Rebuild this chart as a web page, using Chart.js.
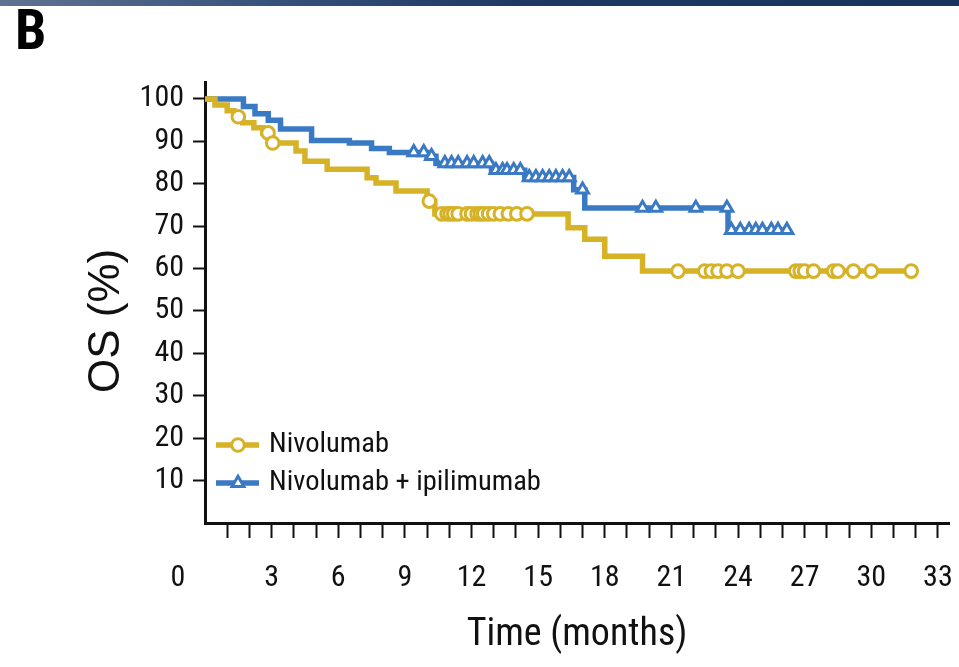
<!DOCTYPE html>
<html>
<head>
<meta charset="utf-8">
<script src="https://cdn.jsdelivr.net/npm/chart.js@4.4.1/dist/chart.umd.min.js"></script>
<style>
html,body{margin:0;padding:0;background:#fff;}
#wrap{position:relative;width:959px;height:667px;overflow:hidden;background:#fff;}
#bar{position:absolute;left:0;top:0;width:959px;height:6px;background:linear-gradient(to right,#5f7292 0%,#34507a 30%,#1d3862 55%,#18335b 100%);}
#panel{position:absolute;left:15px;top:4px;font:bold 56px 'Roboto Condensed','Liberation Sans',sans-serif;color:#000;line-height:52px;}
canvas{position:absolute;left:0;top:0;}
</style>
</head>
<body>
<div id="wrap">
  <canvas id="c" width="959" height="667"></canvas>
  <div id="bar"></div>
  <div id="panel">B</div>
</div>
<script>
// ---- data ----
const seriesNames = ['Nivolumab', 'Nivolumab + ipilimumab'];

const nivoTimes = [0, 0.45, 1.0, 1.3, 1.7, 2.2, 2.6, 2.95, 4.1, 4.5, 5.5, 7.3, 7.7, 8.6, 10.0, 10.35, 16.35, 17.1, 18.0, 19.7, 31.8];
const nivoOS    = [100, 98.6, 97.2, 95.8, 94.4, 93.2, 92.0, 89.6, 87.7, 85.3, 83.4, 81.4, 80.2, 78.3, 75.9, 72.9, 69.6, 66.9, 62.9, 59.4, 59.4];

const nivoCensorTimes = [1.5, 2.84, 3.05, 10.1, 10.66, 10.9, 11.04, 11.2, 11.4, 11.8, 12.0, 12.25, 12.4, 12.55, 12.77, 13.0, 13.3, 13.66, 14.04, 14.5,
                         21.3, 22.5, 22.8, 23.1, 23.5, 24.0, 26.6, 26.8, 27.0, 27.4, 28.3, 28.5, 29.2, 30.0, 31.8];
const nivoCensorOS    = [95.8, 92.0, 89.6, 75.9, 72.9, 72.9, 72.9, 72.9, 72.9, 72.9, 72.9, 72.9, 72.9, 72.9, 72.9, 72.9, 72.9, 72.9, 72.9, 72.9,
                         59.4, 59.4, 59.4, 59.4, 59.4, 59.4, 59.4, 59.4, 59.4, 59.4, 59.4, 59.4, 59.4, 59.4, 59.4];

const comboTimes = [0, 1.73, 2.25, 2.85, 3.4, 4.8, 6.5, 7.5, 8.3, 10.0, 10.4, 12.9, 14.4, 16.6, 17.1, 23.55, 26.2];
const comboOS    = [100, 98.2, 96.5, 95.0, 92.9, 90.2, 89.6, 88.3, 87.4, 86.5, 84.8, 83.2, 81.5, 78.6, 74.3, 69.1, 69.1];

const comboCensorTimes = [9.4, 9.85, 10.2, 10.8, 11.1, 11.4, 11.8, 12.1, 12.5, 12.8, 13.1, 13.4, 13.6, 13.9, 14.2,
                          14.6, 14.9, 15.2, 15.5, 15.8, 16.1, 16.4, 17.0, 19.7, 20.3, 22.1, 23.5,
                          23.7, 24.1, 24.5, 24.8, 25.1, 25.5, 25.8, 26.2];
const comboCensorOS    = [87.4, 87.4, 86.5, 84.8, 84.8, 84.8, 84.8, 84.8, 84.8, 84.8, 83.2, 83.2, 83.2, 83.2, 83.2,
                          81.5, 81.5, 81.5, 81.5, 81.5, 81.5, 81.5, 78.6, 74.3, 74.3, 74.3, 74.3,
                          69.1, 69.1, 69.1, 69.1, 69.1, 69.1, 69.1, 69.1];

const xTicks = [1,2,3,4,5,6,7,8,9,10,11,12,13,14,15,16,17,18,19,20,21,22,23,24,25,26,27,28,29,30,31,32,33];
const xTickLabels = [3,6,9,12,15,18,21,24,27,30,33];
const originLabel = '0';
const yTicks = [10,20,30,40,50,60,70,80,90,100];
const xTitle = 'Time (months)';
const yTitle = 'OS (%)';

// ---- styles ----
const FONT = "'Roboto Condensed','Liberation Sans',sans-serif";
const TITLE_FONT_Y = "'Liberation Sans','Roboto Condensed',sans-serif";
const YELLOW = '#D6B226';
const BLUE = '#3A79C3';
const INK = '#111';

function pts(xs, ys){ return xs.map((x,i)=>({x:x, y:ys[i]})); }

const legendPlugin = {
  id: 'kmLegend',
  afterDraw(chart){
    const ctx = chart.ctx;
    const rows = [
      {label: seriesNames[0], color: YELLOW, style: 'circle', r: 6.3, y: 445},
      {label: seriesNames[1], color: BLUE, style: 'triangle', r: 6.8, y: 483}
    ];
    ctx.save();
    rows.forEach(r=>{
      ctx.strokeStyle = r.color; ctx.lineWidth = 5.5; ctx.lineCap = 'butt';
      ctx.beginPath(); ctx.moveTo(216, r.y); ctx.lineTo(259, r.y); ctx.stroke();
      ctx.fillStyle = '#fff'; ctx.strokeStyle = r.color; ctx.lineWidth = 3;
      Chart.helpers.drawPoint(ctx, {pointStyle: r.style, radius: r.r, borderWidth: 3, rotation: 0}, 238, r.y);
      ctx.fillStyle = INK; ctx.font = "28.5px " + FONT; ctx.textBaseline = 'middle'; ctx.textAlign = 'left';
      ctx.fillText(r.label, 269, r.y);
    });
    ctx.restore();
  }
};

const originPlugin = {
  id: 'originLabel',
  afterDraw(chart){
    const xs = chart.scales.x;
    const items = xs.getLabelItems();
    const ref = items.find(it => it.label === '3') || items[0];
    const ctx = chart.ctx;
    ctx.save();
    ctx.fillStyle = INK;
    ctx.font = ref.font.string;
    ctx.textAlign = 'center';
    ctx.textBaseline = ref.options.textBaseline;
    ctx.fillText(originLabel, xs.getPixelForValue(0) - 27, ref.options.translation[1] + ref.textOffset);
    ctx.restore();
  }
};

new Chart(document.getElementById('c'), {
  type: 'scatter',
  data: {
    datasets: [
      {type:'line', label: seriesNames[0], data: pts(nivoTimes, nivoOS), stepped: true, showLine: true,
       borderColor: YELLOW, borderWidth: 5.5, pointRadius: 0, fill: false, borderJoinStyle: 'miter', order: 2},
      {type:'line', label: seriesNames[1], data: pts(comboTimes, comboOS), stepped: true, showLine: true,
       borderColor: BLUE, borderWidth: 5.5, pointRadius: 0, fill: false, borderJoinStyle: 'miter', order: 3},
      {type:'scatter', label: seriesNames[0] + ' censored', data: pts(nivoCensorTimes, nivoCensorOS),
       pointStyle: 'circle', pointRadius: 6.3, pointBorderWidth: 3, pointBorderColor: YELLOW, pointBackgroundColor: '#fff', order: 0},
      {type:'scatter', label: seriesNames[1] + ' censored', data: pts(comboCensorTimes, comboCensorOS),
       pointStyle: 'triangle', pointRadius: 6.8, pointBorderWidth: 3, pointBorderColor: BLUE, pointBackgroundColor: '#fff', order: 1}
    ]
  },
  options: {
    responsive: false,
    animation: false,
    layout: {padding: {top: 82, right: 10, left: 0, bottom: 0}},
    plugins: {legend: {display: false}, tooltip: {enabled: false}},
    scales: {
      x: {
        type: 'linear', min: 0, max: 33.5,
        afterBuildTicks: s => { s.ticks = xTicks.map(v => ({value: v})); },
        afterFit: s => { s.height = 144; s.paddingLeft = 0; s.paddingRight = 0; },
        ticks: {autoSkip: false, maxRotation: 0, includeBounds: false, padding: 22, color: INK,
                font: {family: FONT, size: 30},
                callback: v => xTickLabels.includes(v) ? String(v) : ''},
        grid: {drawOnChartArea: false, drawTicks: true, tickLength: 15, tickWidth: 2, tickColor: INK},
        border: {display: true, color: INK, width: 3},
        title: {display: true, text: xTitle, color: INK, font: {family: FONT, size: 38}, padding: {top: 0, bottom: 9}}
      },
      y: {
        type: 'linear', min: 0, max: 104,
        afterBuildTicks: s => { s.ticks = yTicks.map(v => ({value: v})); },
        afterFit: s => { s.width = 205; s.paddingTop = 0; s.paddingBottom = 0; },
        ticks: {padding: 9, color: INK, font: {family: FONT, size: 30}, callback: v => String(v)},
        grid: {drawOnChartArea: false, drawTicks: true, tickLength: 12, tickWidth: 2, tickColor: INK},
        border: {display: true, color: INK, width: 3},
        title: {display: true, text: yTitle + '   ', color: INK, font: {family: TITLE_FONT_Y, size: 44}, padding: {top: 80, bottom: 0}}
      }
    }
  },
  plugins: [legendPlugin, originPlugin]
});
</script>
</body>
</html>
